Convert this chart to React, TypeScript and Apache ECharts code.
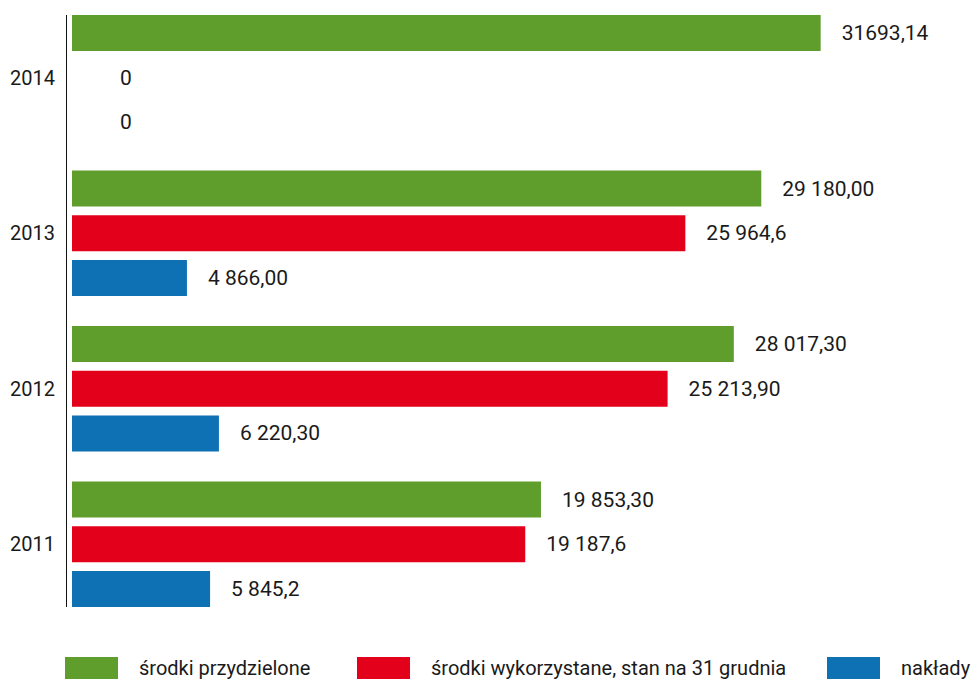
import React, { useEffect, useRef } from "react";
import * as echarts from "echarts";

const categories = ["2011", "2012", "2013", "2014"];
const seriesNames = [
  "środki przydzielone",
  "środki wykorzystane, stan na 31 grudnia",
  "nakłady",
];
const greenValues = [19853.3, 28017.3, 29180.0, 31693.14];
const redValues = [19187.6, 25213.9, 25964.6, 0];
const blueValues = [5845.2, 6220.3, 4866.0, 0];
const greenLabels = ["19 853,30", "28 017,30", "29 180,00", "31693,14"];
const redLabels = ["19 187,6", "25 213,90", "25 964,6", "0"];
const blueLabels = ["5 845,2", "6 220,30", "4 866,00", "0"];
const colors = ["#5f9e2d", "#e2001a", "#0e71b4"];

const FONT = "Roboto, 'Noto Sans', sans-serif";
const TEXT = "#1a1a1a";

function makeData(values: number[]) {
  return values.map((v) =>
    v === 0 ? { value: v, label: { distance: 48 } } : { value: v }
  );
}

export default function App() {
  const ref = useRef<HTMLDivElement>(null);
  useEffect(() => {
    if (!ref.current) return;
    const chart = echarts.init(ref.current, null, { renderer: "svg" });
    const values = [greenValues, redValues, blueValues];
    const labels = [greenLabels, redLabels, blueLabels];
    const legendLefts = [65, 357, 827];
    chart.setOption({
      animation: false,
      backgroundColor: "#ffffff",
      textStyle: { fontFamily: FONT },
      grid: { left: 72, right: 0, top: 0, bottom: 58, containLabel: false },
      xAxis: {
        type: "value",
        min: 0,
        max: 38100,
        show: false,
      },
      yAxis: {
        type: "category",
        data: categories,
        axisLine: { show: false },
        axisTick: { show: false },
        splitLine: { show: false },
        axisLabel: {
          fontSize: 20,
          color: TEXT,
          margin: 17,
          fontFamily: FONT,
        },
      },
      legend: seriesNames.map((name, i) => ({
        data: [{ name, icon: "rect" }],
        left: legendLefts[i],
        top: 657,
        padding: 0,
        itemWidth: 53,
        itemHeight: 22,
        selectedMode: false,
        textStyle: {
          fontSize: 20,
          lineHeight: 20,
          color: TEXT,
          fontFamily: FONT,
          padding: [0, 0, 0, 16],
        },
      })),
      graphic: [
        {
          type: "line",
          shape: { x1: 66.5, y1: 15, x2: 66.5, y2: 607 },
          style: { stroke: "#111", lineWidth: 1 },
          silent: true,
        },
      ],
      series: seriesNames.map((name, i) => ({
        name,
        type: "bar",
        data: makeData(values[i]),
        barWidth: 36,
        barGap: "24%",
        barCategoryGap: "19.7%",
        itemStyle: { color: colors[i] },
        label: {
          show: true,
          position: "right",
          distance: 21,
          fontSize: 21,
          color: TEXT,
          fontFamily: FONT,
          formatter: (p: any) => labels[i][p.dataIndex],
        },
      })),
    });
    return () => chart.dispose();
  }, []);
  return (
    <div
      ref={ref}
      style={{ position: "fixed", left: 0, top: 0, width: 972, height: 680 }}
    />
  );
}
